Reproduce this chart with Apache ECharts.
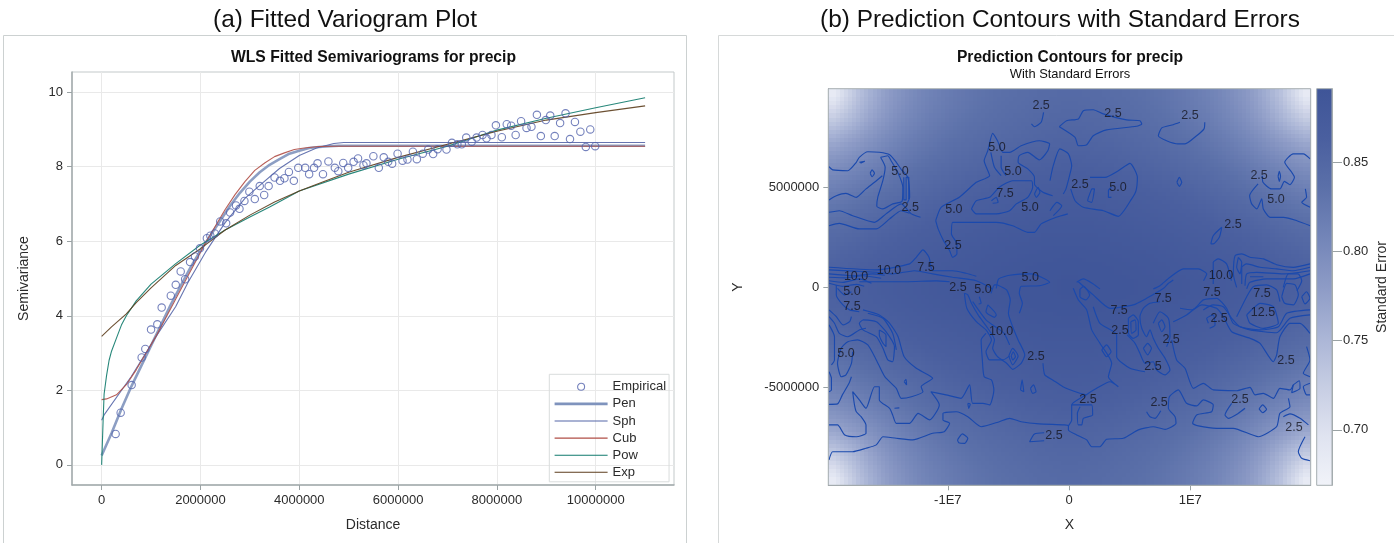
<!DOCTYPE html>
<html><head><meta charset="utf-8">
<style>html,body{margin:0;padding:0;background:#fff}#c{width:1397px;height:543px}</style>
<script src="https://cdn.jsdelivr.net/npm/echarts@6/dist/echarts.min.js"></script>
</head><body><div id="c"></div>
<script>
// ---- (a) variogram, distance in millions ----
const empirical=[[.283,.83],[.385,1.4],[.607,2.14],[.81,2.88],[.884,3.11],[1,3.63],[1.127,3.77],[1.215,4.22],[1.4,4.54],[1.5,4.83],[1.6,5.19],[1.69,4.98],[1.79,5.44],[1.89,5.59],[1.99,5.81],[2.13,6.08],[2.2,6.15],[2.29,6.21],[2.4,6.53],[2.52,6.48],[2.6,6.77],[2.72,6.96],[2.79,6.87],[2.89,7.08],[2.99,7.33],[3.1,7.13],[3.2,7.48],[3.29,7.24],[3.38,7.48],[3.5,7.71],[3.61,7.62],[3.7,7.69],[3.79,7.86],[3.89,7.62],[3.98,7.97],[4.12,7.97],[4.2,7.8],[4.3,7.97],[4.37,8.09],[4.48,7.8],[4.59,8.14],[4.72,7.97],[4.79,7.88],[4.89,8.1],[4.99,7.97],[5.1,8.13],[5.19,8.22],[5.3,8.04],[5.36,8.09],[5.5,8.28],[5.61,7.97],[5.71,8.25],[5.8,8.13],[5.88,8.08],[5.99,8.35],[6.09,8.16],[6.19,8.19],[6.3,8.4],[6.38,8.2],[6.5,8.35],[6.61,8.46],[6.71,8.34],[6.8,8.47],[6.98,8.46],[7.09,8.64],[7.2,8.6],[7.29,8.6],[7.38,8.78],[7.49,8.67],[7.59,8.78],[7.71,8.85],[7.79,8.76],[7.89,8.85],[7.98,9.11],[8.1,8.79],[8.2,9.14],[8.29,9.1],[8.38,8.85],[8.49,9.22],[8.6,9.04],[8.7,9.07],[8.81,9.39],[8.89,8.82],[8.99,9.25],[9.08,9.37],[9.17,8.82],[9.28,9.17],[9.39,9.43],[9.48,8.74],[9.58,9.2],[9.69,8.94],[9.8,8.53],[9.89,9.0],[9.99,8.55]];
const pen=[[0,.25],[.2,.85],[.4,1.5],[.6,2.1],[.8,2.65],[1,3.2],[1.2,3.75],[1.4,4.3],[1.6,4.8],[1.8,5.3],[2,5.75],[2.2,6.15],[2.4,6.55],[2.6,6.95],[2.8,7.3],[3,7.6],[3.2,7.85],[3.4,8.05],[3.6,8.2],[3.8,8.35],[4,8.43],[4.2,8.5],[4.4,8.53],[4.6,8.55],[4.8,8.56],[11,8.56]];
const sph=[[0,1.2],[.05,1.34],[.6,2.37],[1.1,3.44],[1.5,4.25],[1.75,4.9],[2.1,5.7],[2.5,6.5],[2.9,7.15],[3.2,7.5],[3.6,7.95],[4,8.3],[4.35,8.5],[4.7,8.62],[4.9,8.65],[11,8.65]];
const cub=[[0,1.75],[.1,1.77],[.3,1.88],[.5,2.15],[.7,2.55],[.9,3],[1.1,3.45],[1.3,3.95],[1.5,4.45],[1.7,4.95],[1.9,5.45],[2.1,5.95],[2.3,6.4],[2.5,6.85],[2.7,7.25],[2.9,7.6],[3.1,7.9],[3.3,8.1],[3.5,8.27],[3.7,8.37],[3.9,8.46],[4.1,8.5],[4.4,8.54],[4.8,8.55],[11,8.55]];
const pow=[[0,0],[.03,1.2],[.05,1.9],[.1,2.4],[.15,2.8],[.2,3.05],[.3,3.4],[.4,3.75],[.5,4],[.7,4.4],[1,4.85],[1.5,5.4],[2,5.9],[2.5,6.3],[3,6.65],[3.4,6.92],[4,7.35],[5,7.8],[6,8.2],[7,8.55],[8,8.98],[9,9.3],[10,9.58],[11,9.85]];
const exp=[[0,3.45],[.2,3.7],[.5,4.05],[.7,4.35],[1,4.75],[1.5,5.35],[2,5.8],[2.5,6.3],[3,6.7],[3.5,7.05],[4,7.35],[4.5,7.6],[5,7.85],[6,8.25],[7,8.6],[8,8.95],[9,9.25],[10,9.45],[11,9.63]];
const distTicks=[0,2000000,4000000,6000000,8000000,10000000];
const semiTicks=[0,2,4,6,8,10];
// ---- (b) standard error, top-left quadrant in thousandths, mirrored (reference is symmetric) ----
const seQuadrant=[
[685,712,738,758,774,786,796,805,812,818,823,827,831,834,837,839,841,843,844,845],
[705,725,746,764,778,790,800,808,815,820,825,829,833,836,839,841,843,845,846,847],
[728,742,757,772,785,796,805,812,819,824,829,833,836,839,842,844,846,848,849,850],
[750,760,771,783,794,803,811,818,824,829,833,837,840,843,845,847,849,851,852,853],
[769,777,785,794,803,811,818,824,829,834,838,841,844,847,849,851,853,854,855,856],
[785,791,798,805,812,819,825,830,835,839,843,846,849,851,853,855,857,858,859,860],
[798,803,809,815,821,827,832,837,841,845,848,851,853,855,857,859,861,862,863,864],
[809,814,819,824,829,834,839,843,847,850,853,856,858,860,862,863,865,866,867,868],
[819,823,828,832,837,841,845,849,852,855,858,860,862,864,866,867,869,870,871,872],
[828,832,836,840,844,848,851,854,857,860,862,864,866,868,870,871,872,874,875,875],
[836,839,843,847,850,854,857,859,862,864,866,868,870,872,873,875,876,877,878,878],
[843,846,849,853,856,859,861,864,866,868,870,872,874,875,877,878,879,880,881,881],
[849,852,855,858,861,863,866,868,870,872,874,876,877,879,880,881,882,883,884,884],
[854,857,859,862,865,867,870,872,874,876,877,879,880,882,883,884,885,886,886,887],
[858,860,863,866,868,871,873,875,877,878,880,881,883,884,885,886,887,888,888,889],
[860,863,865,868,871,873,875,877,879,880,882,883,885,886,887,888,888,889,889,890]];
const sePalette=['#f1f3f9','#dfe3f0','#c6cde3','#aab5d6','#8d9bc6','#7385b8','#5b70a9','#4a5f9f','#3f5598'];
const seMin=.669, seMax=.891;
const seTicks=[.70,.75,.80,.85];
const xTicksB=[-10000000,0,10000000], xTickLabelsB=['-1E7','0','1E7'];
const yTicksB=[-5000000,0,5000000];
// contour polylines, X and Y in millions
const contourPaths=[
[[-19.8,6.03],[-19.5,5.87],[-18.25,5.83],[-17.55,6.25],[-17.3,6.5],[-16.6,6.78],[-15.65,6.75],[-14.8,6.63],[-14.25,6.25],[-13.85,5.9],[-13.3,5.5],[-13.15,4.5],[-13.35,4.2]],
[[-19.8,4.37],[-19.2,4.58],[-18.4,4.7],[-17.55,4.5],[-16.75,4.92],[-16.05,5.25],[-15.4,5.58]],
[[-15.55,6.5],[-15.17,6],[-15.36,5.33],[-15.78,4.5],[-15.86,4.05],[-15.36,3.92],[-14.54,4.17],[-13.77,4.3],[-13.71,5],[-14.13,5.75],[-14.68,6.33],[-14.95,6.58],[-15.55,6.5]],
[[-19.8,3.75],[-18.95,3.83],[-17.85,3.58],[-16.05,3.25],[-15.1,3.67],[-13.85,4.17],[-13,3.67],[-12.25,3.5]],
[[-19.8,3.08],[-18.95,3.2],[-17.3,2.92],[-15.9,2.92],[-14.8,3.42],[-13.85,3.83],[-13.15,3.7]],
[[-13.63,5.5],[-13.63,4.37],[-13.44,4.37],[-13.44,5.5],[-13.22,5.5],[-13.22,4.4]],
[[-16.4,5.7],[-16.25,5.87],[-16.05,5.7],[-16.25,5.53],[-16.4,5.7]],
[[-17.3,6.25],[-16.85,6.3],[-17.2,6.2]],
[[-11,3.33],[-10.55,4],[-9.05,4.5],[-7.65,5.25],[-6.55,5.58],[-7,6.33],[-6.7,6.83],[-6.3,7.7],[-5.9,7.33],[-5.45,6.75],[-4.9,6.75],[-3.95,7.08],[-2.45,7.33],[-1.6,7.17],[-1.75,6.83],[-2.45,6.37],[-3.4,6.75],[-4.1,6.58],[-4.2,6.25],[-3.4,5.92],[-2.85,5.5],[-2.85,5.17],[-2.15,4.75],[-1.35,4.58]],
[[-11,3.33],[-10.8,2.92],[-10.35,2.33],[-9.85,1.83],[-9.6,1.5],[-9.25,1.67],[-9.25,2.17],[-9.7,2.67],[-9.6,3.25],[-7.95,3.25],[-6,3.25],[-4.65,3.08],[-3.4,2.75],[-2.85,2.75],[-2.3,3.17],[-1.05,3.5],[-.1,3.67]],
[[-8.05,3.92],[-7.65,4.33],[-6.55,4.5],[-5.75,5],[-4.65,5.33],[-3.1,5.33],[-3,5],[-3.4,4.5],[-4.35,4.17],[-4.9,3.83],[-6,3.67],[-7.65,3.67],[-8.05,3.92]],
[[-6.45,6.75],[-6.15,6],[-5.6,5.58]],
[[-5.6,6.58],[-5.6,6],[-5.2,5.58]],
[[-6.4,4.33],[-6,4.5],[-5.85,4.25],[-6.3,4.2]],
[[-2.85,4.67],[-2.55,5],[-2.4,4.75],[-2.7,4.5],[-2.85,4.67]],
[[-3.1,8.17],[-2.85,8.03],[-2.3,8.25],[-2.1,8.75]],
[[-.8,8.03],[-.2,8.33],[.77,8.42],[1.18,8.83],[2,8.88],[2.83,8.67],[4.75,8.37],[5.85,8.33],[6,8.17],[5.58,8.05],[3.1,7.87],[2,7.58],[1.46,7.13],[.77,7.08],[.5,7.5],[-.8,8.03]],
[[9.15,8.25],[8.6,8.13],[7.65,7.97],[7.37,7.58],[8.05,7.33],[9,7.17],[9.57,7.17],[10.53,7.58],[11.14,7.92],[11.2,8.25]],
[[1.73,5.5],[2.97,5.5],[4.07,5.83],[5.03,6.2],[5.64,5.5],[5.53,4.83],[5.17,4.42],[4.07,3.55],[2.83,3.83],[1.18,4],[.5,4.33],[.14,4.92]],
[[-1.57,5.33],[-1.3,6.08],[-.75,6.92],[-.05,6.67],[.22,6.08],[.08,5.67],[-.25,4.92],[-.47,4.67]],
[[-1.57,3.83],[-1,4.25],[-.6,4.08],[-1.3,3.58]],
[[1.87,4.92],[2.1,4.92],[1.87,4.25],[1.54,4.33],[1.87,4.92]],
[[3.5,5],[3.25,4.83],[3.25,4.5],[3.5,4.5]],
[[8.9,5.25],[9.1,5.5],[9.3,5.25],[9.1,5.05],[8.9,5.25]],
[[17.25,5.55],[17.35,5.8],[17.45,5.55],[17.35,5.3],[17.25,5.55]],
[[19.9,6.42],[19.33,6.67],[18.5,6.67],[17.8,6.25],[18.37,5.75],[18.6,5.5],[18.23,5.13],[17.77,5.3],[17.4,4.92],[16.7,4.92],[16,5.25],[15.95,5.58]],
[[15.6,5.17],[14.9,4.58],[15.07,4.17],[15.5,3.92],[15.9,4.42],[16.03,3.92],[16.6,3.5],[17.7,3.5],[18.8,3.33],[19.9,3.08]],
[[19.5,4.92],[19.6,4.5],[19.2,4.25],[19.9,4]],
[[11.7,2.17],[11.9,2.58],[12.6,3],[12.4,2.5],[11.9,2.17],[11.7,2.17]],
[[-19.8,1],[-15.9,.87],[-13.15,1.17],[-12.6,1.5],[-12.05,1.87],[-11.55,1.5],[-11.25,.83],[-9.6,.83],[-8.5,.7],[-7.65,.55]],
[[-19.8,.87],[-15.9,.75],[-14.55,.67],[-12.75,.83],[-11.25,.67],[-9.6,.5],[-7.65,.33],[-6.3,-.08]],
[[-19.8,.67],[-17.85,.58],[-16.2,.67],[-15.2,.6]],
[[-19.8,.5],[-18.4,.47],[-17,.58],[-15.5,.45]],
[[-19.8,.33],[-18.65,.25],[-17.3,.42],[-16.3,.2]],
[[-19.8,.2],[-18.7,.05],[-17.5,.15],[-16.9,.05]],
[[-17.3,.28],[-13.45,.28],[-10.95,.32],[-9.85,.28]],
[[-6,-.05],[-5.8,.42],[-4.9,.6],[-3.1,.67],[-1.6,.25],[-2.45,.08],[-3.95,.05],[-4.1,-.3],[-3.85,-.8],[-4.1,-1.3]],
[[-17,-1.13],[-15.65,-1.38],[-14.8,-1.8],[-14.1,-2.47],[-13.6,-3.47],[-12.6,-4.05],[-11.25,-4.55],[-12.2,-4.97],[-12.05,-5.22],[-13,-5.47],[-13.85,-5.55],[-14.25,-5.05],[-15.2,-4.47],[-15.9,-3.63],[-16.6,-2.88],[-17.45,-2.63],[-18.25,-2.72],[-18.8,-3.05],[-19.1,-3.8],[-18.8,-4.47],[-18.4,-4.38],[-17.95,-3.8],[-17.85,-3.22]],
[[-17,-1.63],[-15.9,-1.72],[-15.1,-2.22],[-14.4,-2.97],[-14.55,-3.72],[-14.95,-3.63],[-15.35,-3.05],[-15.9,-2.47],[-17,-2.13],[-17.3,-1.8],[-17,-1.63]],
[[-16.6,-1.3],[-15.35,-1.55],[-14.55,-2.3],[-14.25,-3.13]],
[[-15.65,-2.13],[-15.1,-2.38],[-15.1,-2.97],[-15.35,-2.8],[-15.65,-2.38],[-15.65,-2.13]],
[[-19.2,.12],[-19.2,-.38],[-18.65,-.88],[-18.1,-1.13],[-17.3,-1.22]],
[[-19.8,-1.13],[-19.2,-1.47],[-18.65,-1.88],[-18.1,-1.72],[-17.95,-1.47]],
[[-19.8,-1.47],[-19.35,-1.8],[-18.95,-2.3],[-18.25,-2.47],[-17.3,-2.13],[-16.75,-2.05]],
[[-19.1,-.05],[-18.5,-.38],[-17.95,-.22]],
[[-19.8,-1.88],[-19.35,-2.47],[-19.35,-3.63],[-19.6,-3.88]],
[[-19.8,-4.22],[-19.6,-4.55],[-19.6,-5.13],[-19.8,-5.22]],
[[-19.8,-5.85],[-19.1,-5.83],[-18.7,-5.38],[-18.15,-4.8],[-17.95,-4.47]],
[[-19.8,-6.88],[-19.1,-6.88],[-18.5,-7.38],[-17.55,-7.47],[-16.75,-7.3],[-16.75,-6.88],[-17.15,-6.47],[-17.55,-6.22],[-17.7,-5.88],[-17.85,-5.22],[-17.3,-5.63],[-16.75,-6.05],[-16.05,-4.97],[-15.65,-4.97],[-15.65,-5.63],[-14.8,-6.05],[-14.55,-6.38],[-14.25,-6.8],[-13.15,-6.8],[-12.45,-6.3],[-11.5,-6.63],[-10.7,-5.88],[-11.4,-5.22],[-10.15,-5.38],[-8.9,-5.55],[-8.2,-4.88],[-7.95,-5.8],[-7.1,-5.8],[-6.55,-5.88],[-6.2,-5.13],[-6.4,-4.63],[-7,-4.47],[-7.15,-3.63],[-7.25,-2.63],[-6.85,-2.3]],
[[-19.8,-8.63],[-19.5,-8.22],[-17.85,-8.22],[-16.75,-8.05],[-15.9,-7.88],[-15.35,-7.47],[-14.25,-7.55],[-12.9,-7.63],[-11.25,-7.3],[-10.3,-7.22],[-9.85,-6.8],[-10.4,-6.63],[-10.4,-6.3],[-9.3,-6.22],[-8.35,-6.47],[-7.25,-6.97],[-5.75,-6.72],[-4.9,-6.55],[-3.95,-6.72],[-2.45,-6.83],[-.4,-6.88],[-.05,-6.93],[-.05,-7.13],[.63,-7.38],[1.46,-7.63],[1.87,-7.97],[2.55,-7.97],[3.1,-7.6],[4.48,-7.55],[5.72,-7.13],[6.95,-6.97],[7.92,-7.1],[8.83,-6.8],[8.75,-6.47],[8.2,-6.05],[8.28,-5.47],[9.02,-5.13],[9.7,-5.8],[10.53,-5.93],[11.08,-5.63],[11.9,-5.88],[11.77,-6.22],[10.53,-6.38],[10.2,-6.8],[10.67,-6.93],[12.18,-7.05],[13.55,-7.05],[15.62,-7.47],[17.13,-6.97],[17.4,-6.3],[18.23,-5.97],[18.1,-5.55]],
[[-9.2,-7.63],[-8.8,-7.33],[-8.35,-7.55],[-8.6,-7.8],[-9.1,-7.77],[-9.2,-7.63]],
[[-2.05,-7.27],[-2.85,-7.33],[-3.25,-7.72],[-2.05,-7.67]],
[[-2.15,-3.8],[-2,-4.38],[-1.35,-4.63],[-.5,-4.97],[.9,-5.3],[1.4,-5.38]],
[[-4,-5.13],[-3.87,-4.63],[-3.73,-5.22],[-4,-5.13]],
[[-3.18,-5.05],[-2.93,-4.88],[-2.72,-5.22],[-3,-5.3],[-3.18,-5.05]],
[[-8.35,-5.8],[-8.27,-6.05],[-8.15,-5.83],[-8.35,-5.8]],
[[-13.6,-4.72],[-13.45,-4.6],[-13.4,-4.88],[-13.6,-4.72]],
[[-14.4,-6.05],[-14,-6.03]],
[[-8.63,-.3],[-8.43,-1.05],[-7.65,-1.72],[-6.85,-2.13],[-6.4,-2.63],[-6.85,-3.22],[-6.55,-3.63],[-5.45,-3.63],[-4.9,-3.43]],
[[-5.9,.12],[-5.15,-.13],[-4.85,-.63],[-5,-1.3],[-4.65,-1.97],[-4.2,-2.63],[-3.65,-3.38],[-3.95,-3.8],[-4.65,-4.1],[-5.15,-3.8],[-5.9,-3.47],[-6.3,-3.05],[-6.15,-2.63],[-6.7,-2.05],[-7.5,-1.38],[-8.05,-.8],[-8.35,-.38],[-8.63,-.3]],
[[-7.95,-.72],[-6.85,-1.63],[-5.9,-2.05],[-5.35,-2.3],[-4.9,-2.88]],
[[-6.7,-.88],[-6,-1.38],[-6.15,-1.5],[-6.85,-1.22],[-6.7,-.88]],
[[-7.4,-.47],[-7.25,-.8],[-7.45,-.83]],
[[-4.97,-3.43],[-4.65,-3.05],[-4.2,-3.43],[-4.65,-3.88],[-4.97,-3.43]],
[[-4.77,-3.43],[-4.6,-3.22],[-4.42,-3.47],[-4.65,-3.63],[-4.77,-3.43]],
[[-6.43,-.3],[-6.15,.12],[-5.9,.12]],
[[.35,-.05],[.77,-.63],[1.46,-1.13],[1.87,-2.13],[2.55,-2.8],[3.52,-3.8],[3.25,-4.47],[4.07,-4.97],[3.38,-4.72],[2.28,-5.05],[1.4,-5.38],[.22,-5.88],[.22,-6.63],[-.05,-6.93]],
[[.9,-.1],[1.2,.05],[1.7,-.38],[1.4,-.63],[.9,-.47],[.9,-.1]],
[[2,-.97],[2.55,-1.8],[3.93,-2.38],[3.93,-3.47],[5.03,-4.05],[6.27,-4.22]],
[[.77,.28],[2,-.38],[3.38,-1.05],[5.3,-.88],[6.4,-.55],[7.8,-.05],[8.2,.2],[8.6,.37]],
[[2.7,-3.13],[3.1,-2.88],[3.47,-3.22],[3.1,-3.47],[2.7,-3.13]],
[[4.9,-1.55],[5.3,-1.38],[5.72,-1.72],[5.72,-2.38],[5.3,-2.55],[4.9,-2.3],[4.9,-1.55]],
[[5.1,-1.72],[5.45,-1.63],[5.53,-2.13],[5.17,-2.3],[5.1,-1.72]],
[[4.8,-2.38],[5.45,-2.8],[5.85,-3.3],[6.27,-3.8],[6.95,-3.72],[7.23,-4.13],[7.92,-4.38],[8.33,-4.13],[7.92,-3.55],[7.37,-3.05],[6.95,-2.55],[6.68,-2.13],[6.4,-2.47],[6,-2.05],[5.85,-1.47],[6.13,-1.05],[6.68,-.8],[7.5,-.72]],
[[6.13,-3.05],[6.49,-2.8],[6.8,-3.05],[6.49,-3.38],[6.13,-3.05]],
[[7.37,-1.8],[7.65,-1.63],[7.92,-1.97],[7.65,-2.22],[7.37,-1.8]],
[[6.95,-1.8],[7.5,-1.22],[8.2,-1.55],[8.33,-2.47],[8.05,-2.97]],
[[8.47,-2.63],[8.88,-3.63],[9.57,-4.05],[10.26,-5.05],[11.08,-4.8],[11.9,-5.13],[13.83,-5.17],[14.93,-5],[15.35,-5.38],[16.03,-5.3],[16.86,-5.55],[17.4,-5.05],[18.23,-5.13],[18.5,-4.88]],
[[.22,-5.88],[1.87,-5.88],[1.95,-6.38],[1.18,-6.55],[1.05,-6.88],[.77,-6.88],[.69,-6.3],[.91,-5.97]],
[[6.4,-6.22],[6.68,-6.47],[7.1,-6.55],[7.57,-6.17]],
[[13.42,-5.8],[12.87,-6.38],[13.15,-6.55],[13.97,-6.3],[14.52,-6.05]],
[[15.68,-6.08],[15.98,-5.88],[16.3,-6.1],[15.98,-6.27],[15.68,-6.08]],
[[17.68,-6.47],[18.23,-6.33],[19.06,-6.55],[19.75,-6.88]],
[[19.47,-7.47],[18.92,-8.22],[19.2,-8.55],[19.88,-8.67]],
[[18.5,-4.88],[19,-4.67],[19.06,-5.05],[18.37,-5.27],[18.5,-4.88]],
[[9.16,-1.05],[10.12,-1.13],[10.95,-.88],[12.18,-1.05],[12.73,-1.47],[13.42,-2.22],[14.93,-2.55],[15.76,-2.8],[16.86,-3.72],[17.13,-3.38],[17.4,-2.47],[18.23,-1.8],[19.06,-1.8],[19.88,-2.3]],
[[8.6,-1.72],[9.7,-1.38],[10.53,-.97],[11.08,-.63],[12.18,-.55],[13,-1.05],[13.55,-1.8],[14.93,-2.13],[17.13,-2.27],[18.23,-1.55],[19.88,-1.38]],
[[11.08,-1.13],[11.9,-.88],[12.73,-.97],[13.42,-1.55],[14.1,-1.97],[15.76,-2.13],[17.27,-1.97],[17.96,-1.3],[19.88,-1.13]],
[[11.5,-1.8],[11.36,-1.55],[11.9,-1.38],[12.05,-1.88],[11.6,-2.05]],
[[14.66,-1.38],[15.2,-1.05],[15.76,-.8],[16.86,-.97],[17.27,-1.8],[16.03,-2.05],[14.93,-1.8],[14.66,-1.38]],
[[13.83,-1.47],[14.66,-.47],[15.2,.03],[16.3,.12],[17.13,-.13],[17.4,-.72]],
[[17.55,-.47],[17.96,.2],[18.65,.12],[18.92,-.38],[18.5,-.88],[17.8,-.8],[17.55,-.47]],
[[19.2,-.47],[19.6,-.22],[19.88,-.55],[19.47,-.83],[19.2,-.47]],
[[19.6,-2.97],[19.88,-3.63],[19.33,-4.3],[19.88,-4.47]],
[[19.88,-4.8],[19.33,-4.97],[19.6,-5.38],[19.88,-5.38]],
[[19.88,1.17],[18.5,1],[17.13,1.13],[16.03,1.42],[14.93,1.5],[14.25,1.67],[13.7,1.58],[13.56,.67],[13.83,0]],
[[19.88,1],[18.5,.83],[17.13,.92],[15.76,1],[14.66,1.17],[14.25,1],[14.25,.17]],
[[19.88,.83],[17.68,.67],[15.5,.75],[14.66,.67],[14.52,.08]],
[[14.93,.53],[16.03,.53]],
[[19.88,.67],[18.5,.42],[16.3,.42],[14.93,.25],[14.66,-.08]],
[[13.97,1.5],[14.25,1.25],[14.11,.67],[13.83,1],[13.97,1.5]],
[[11.9,.17],[11.9,1.25],[12.32,1.42],[13,1.17],[13.4,.33]],
[[11.1,.33],[11.36,.67],[10.67,.92],[9.43,.92],[8.33,.5],[7.5,.08],[6.96,-.08]],
[[17.68,0],[18.1,.67],[18.9,.67],[19.2,.33],[18.8,-.17]],
[[.63,.25],[1.18,.42],[2,.17],[2.55,-.08]]
];
const contourLabels=[[-2.3,9.07,'2.5'],[3.63,8.67,'2.5'],[9.98,8.6,'2.5'],[-5.94,7,'5.0'],[-4.62,5.77,'5.0'],[-5.28,4.7,'7.5'],[-3.22,3.97,'5.0'],[-13.94,5.77,'5.0'],[-13.1,4,'2.5'],[-9.5,3.87,'5.0'],[-9.57,2.07,'2.5'],[-17.57,.52,'10.0'],[-14.85,.82,'10.0'],[-11.8,1,'7.5'],[-9.16,0,'2.5'],[-7.1,-.13,'5.0'],[-3.2,.47,'5.0'],[-17.9,-.23,'5.0'],[-17.9,-.98,'7.5'],[-18.4,-3.33,'5.0'],[-5.6,-2.23,'10.0'],[-2.72,-3.48,'2.5'],[.9,5.12,'2.5'],[4.04,5,'5.0'],[15.68,5.57,'2.5'],[17.08,4.37,'5.0'],[13.53,3.12,'2.5'],[12.54,.57,'10.0'],[11.8,-.28,'7.5'],[15.92,-.33,'7.5'],[16,-1.28,'12.5'],[12.38,-1.58,'2.5'],[7.76,-.58,'7.5'],[4.13,-1.18,'7.5'],[4.2,-2.18,'2.5'],[8.42,-2.63,'2.5'],[6.93,-3.98,'2.5'],[17.9,-3.68,'2.5'],[1.57,-5.63,'2.5'],[7.43,-5.78,'2.5'],[14.1,-5.63,'2.5'],[18.56,-7.03,'2.5'],[-1.24,-7.43,'2.5']];

const M=1e6, FONT='"Liberation Sans", Arial, sans-serif';
const toM=a=>a.map(p=>[p[0]*M,p[1]]);
const xRangeB=[-19.86*M,19.94*M], yRangeB=[-9.9*M,9.93*M];
const seNc=seQuadrant[0].length*2, seNr=seQuadrant.length*2;
const seAt=(r,c)=>{r=Math.max(0,Math.min(seNr-1,r));c=Math.max(0,Math.min(seNc-1,c));
  return seQuadrant[r<seNr/2?r:seNr-1-r][c<seNc/2?c:seNc-1-c]/1000;};
const seData=[];
const seCell=[(xRangeB[1]-xRangeB[0])/seNc,(yRangeB[1]-yRangeB[0])/seNr];
for(let r=0;r<seNr;r++)for(let c=0;c<seNc;c++)
  seData.push([xRangeB[0]+(c+.5)*seCell[0], yRangeB[1]-(r+.5)*seCell[1], seAt(r,c), r, c]);
const seColor=v=>echarts.color.lerp(Math.max(0,Math.min(1,(v-seMin)/(seMax-seMin))),sePalette);
const SUB=3;
const grayText='#2b2b2b', tickC='#9aa2a4';
const lineS=(name,data,color,w)=>({name,type:'line',xAxisIndex:0,yAxisIndex:0,data:toM(data),showSymbol:false,symbol:'none',lineStyle:{color,width:w,opacity:.9},itemStyle:{color},z:3,silent:true});
const series=[
 lineS('Pen',pen,'#7f93bd',2.6),
 lineS('Sph',sph,'#5566a8',1.1),
 lineS('Cub',cub,'#b04e46',1.1),
 lineS('Pow',pow,'#0f7a6c',1.1),
 lineS('Exp',exp,'#5c3d1c',1.1),
 {name:'Empirical',type:'scatter',xAxisIndex:0,yAxisIndex:0,data:toM(empirical),symbol:'circle',symbolSize:7.4,itemStyle:{color:'rgba(255,255,255,0)',borderColor:'#5263ad',borderWidth:1.1},z:4,silent:true},
 {id:'field',type:'custom',xAxisIndex:1,yAxisIndex:1,data:seData,encode:{x:0,y:1},clip:true,z:1,silent:true,progressive:0,
  renderItem(p,api){
   const c=api.coord([api.value(0),api.value(1)]),s=api.size(seCell),r=api.value(3),k=api.value(4),children=[];
   const w=s[0]/SUB,h=s[1]/SUB;
   for(let i=0;i<SUB;i++)for(let j=0;j<SUB;j++){
     // smooth the drawn cell toward its read neighbours
     const fx=(j+.5)/SUB-.5, fy=(i+.5)/SUB-.5;
     const k2=k+(fx<0?-1:1), r2=r+(fy<0?-1:1), ax=Math.abs(fx), ay=Math.abs(fy);
     const v=(seAt(r,k)*(1-ax)+seAt(r,k2)*ax)*(1-ay)+(seAt(r2,k)*(1-ax)+seAt(r2,k2)*ax)*ay;
     const x0=Math.round(c[0]-s[0]/2+j*w), x1=Math.round(c[0]-s[0]/2+(j+1)*w);
     const y0=Math.round(c[1]-s[1]/2+i*h), y1=Math.round(c[1]-s[1]/2+(i+1)*h);
     children.push({type:'rect',shape:{x:x0,y:y0,width:x1-x0,height:y1-y0},style:{fill:seColor(v)}});
   }
   return {type:'group',children};}},
 {type:'custom',xAxisIndex:2,yAxisIndex:2,data:[[0,seMin,seMax]],encode:{x:0,y:[1,2]},z:1,silent:true,
  renderItem(p,api){const a=api.coord([0,seMax]),b=api.coord([1,seMin]);
   return {type:'rect',shape:{x:a[0],y:a[1],width:b[0]-a[0],height:b[1]-a[1]},
    style:{fill:new echarts.graphic.LinearGradient(0,1,0,0,sePalette.map((c,i)=>({offset:i/(sePalette.length-1),color:c})))}};}}
];
contourPaths.forEach(pts=>series.push({type:'line',xAxisIndex:1,yAxisIndex:1,data:pts.map(p=>[p[0]*M,p[1]*M]),showSymbol:false,symbol:'none',smooth:.2,lineStyle:{color:'#1a49ad',width:1.15},z:3,silent:true,clip:true}));
series.push({type:'scatter',xAxisIndex:1,yAxisIndex:1,data:contourLabels.map(l=>[l[0]*M,l[1]*M,l[2]]),symbolSize:1,itemStyle:{color:'rgba(0,0,0,0)'},z:5,silent:true,
 label:{show:true,position:'inside',formatter:p=>p.value[2],fontFamily:FONT,fontSize:12.5,color:'#15151f'}});

const titleStyle=(s,b)=>({fontFamily:FONT,fontSize:s,fontWeight:b?'bold':'normal',color:'#111'});
const axText={fontFamily:FONT,fontSize:13,color:grayText};
const nameT={fontFamily:FONT,fontSize:14,color:grayText};
const axisBase=(extra)=>Object.assign({type:'value',axisTick:{show:true,length:5,lineStyle:{color:tickC}},axisLine:{show:true,onZero:false,lineStyle:{color:'#a3abac',width:1.5}},splitLine:{show:false},nameTextStyle:nameT,nameLocation:'middle'},extra);
const legendLine=(name,w)=>({name,itemStyle:{opacity:0},lineStyle:{width:w,opacity:1}});
const option={
 animation:false,backgroundColor:'#fff',
 title:[
  {text:'(a) Fitted Variogram Plot',left:345,top:8,padding:0,textAlign:'center',textStyle:titleStyle(24.4)},
  {text:'(b) Prediction Contours with Standard Errors',left:1060,top:8,padding:0,textAlign:'center',textStyle:titleStyle(24.4)},
  {text:'WLS Fitted Semivariograms for precip',left:373.5,top:50,padding:0,textAlign:'center',textStyle:titleStyle(15.7,true)},
  {text:'Prediction Contours for precip',left:1070,top:50,padding:0,textAlign:'center',textStyle:titleStyle(15.6,true)},
  {text:'With Standard Errors',left:1070,top:68,padding:0,textAlign:'center',textStyle:titleStyle(12.9)}
 ],
 grid:[
  {left:72,top:72,width:602,height:413,show:true,borderColor:'#c3c9ca',borderWidth:1,backgroundColor:'transparent'},
  {left:828.3,top:88.7,width:482.4,height:396.6,show:false},
  {left:1316.7,top:88.7,width:15.3,height:396.6,show:false}
 ],
 xAxis:[
  axisBase({gridIndex:0,min:-.6*M,max:11.585*M,name:'Distance',nameGap:33,
    axisTick:{show:true,length:5,customValues:distTicks,lineStyle:{color:tickC}},
    axisLabel:Object.assign({customValues:distTicks,formatter:v=>String(v),margin:9},axText),
    splitLine:{show:true,lineStyle:{color:'#e9e9e9',width:1}}}),
  axisBase({gridIndex:1,min:xRangeB[0],max:xRangeB[1],name:'X',nameGap:33,
    axisTick:{show:true,length:5,customValues:xTicksB,lineStyle:{color:tickC}},
    axisLabel:Object.assign({customValues:xTicksB,formatter:v=>xTickLabelsB[xTicksB.indexOf(v)],margin:9},axText),
    axisLine:{show:true,onZero:false,lineStyle:{color:'#9aa2a4',width:1}}}),
  {type:'value',gridIndex:2,min:0,max:1,show:false}
 ],
 yAxis:[
  axisBase({gridIndex:0,min:-.54,max:10.54,name:'Semivariance',nameGap:41,
    axisTick:{show:true,length:5,customValues:semiTicks,lineStyle:{color:tickC}},
    axisLabel:Object.assign({customValues:semiTicks,margin:9},axText),
    splitLine:{show:true,lineStyle:{color:'#e9e9e9',width:1}}}),
  axisBase({gridIndex:1,min:yRangeB[0],max:yRangeB[1],name:'Y',nameGap:83,
    axisTick:{show:true,length:5,customValues:yTicksB,lineStyle:{color:tickC}},
    axisLabel:Object.assign({customValues:yTicksB,formatter:v=>String(v),margin:9},axText),
    axisLine:{show:true,onZero:false,lineStyle:{color:'#9aa2a4',width:1}}}),
  axisBase({gridIndex:2,position:'right',min:seMin,max:seMax,name:'Standard Error',nameGap:43,nameRotate:90,
    axisTick:{show:true,length:10,customValues:seTicks,lineStyle:{color:tickC}},
    axisLabel:Object.assign({customValues:seTicks,formatter:v=>v.toFixed(2),margin:11},axText),
    axisLine:{show:true,onZero:false,lineStyle:{color:'#a3abac',width:1}}})
 ],
 legend:{left:549.3,top:374.3,orient:'vertical',itemWidth:53,itemHeight:7,itemGap:4.1,padding:[6,3,3,4],borderColor:'#d9dcdc',borderWidth:1,
  backgroundColor:'transparent',selectedMode:false,align:'left',textStyle:{fontFamily:FONT,fontSize:13,color:grayText},
  data:[{name:'Empirical',icon:'circle',itemStyle:{color:'#fff',borderColor:'#5263ad',borderWidth:1.1}},legendLine('Pen',2.6),legendLine('Sph',1.1),legendLine('Cub',1.1),legendLine('Pow',1.1),legendLine('Exp',1.1)]},
 graphic:[
  {type:'polyline',silent:true,z:0,shape:{points:[[3.5,543],[3.5,35.5],[686.5,35.5],[686.5,543]]},style:{stroke:'#ccd1d1',fill:null,lineWidth:1}},
  {type:'polyline',silent:true,z:0,shape:{points:[[718.5,543],[718.5,35.5],[1394,35.5]]},style:{stroke:'#d6d9d9',fill:null,lineWidth:1}},
  {type:'rect',silent:true,z:10,shape:{x:828.3,y:88.7,width:482.4,height:396.6},style:{stroke:'#a6adb0',fill:null,lineWidth:1}},
  {type:'rect',silent:true,z:10,shape:{x:1316.7,y:88.7,width:15.3,height:396.6},style:{stroke:'#a6adb0',fill:null,lineWidth:1}}
 ],
 series
};
echarts.init(document.getElementById('c'),null,{renderer:'canvas'}).setOption(option);
</script></body></html>
